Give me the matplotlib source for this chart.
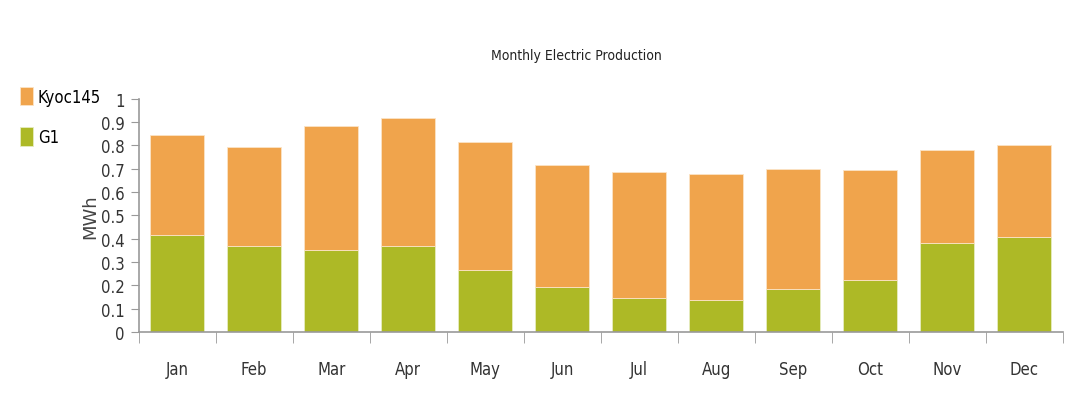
import matplotlib.pyplot as plt
import numpy as np
from matplotlib.ticker import FuncFormatter, MultipleLocator

months = ["Jan", "Feb", "Mar", "Apr", "May", "Jun",
          "Jul", "Aug", "Sep", "Oct", "Nov", "Dec"]
g1 = [0.416, 0.368, 0.352, 0.368, 0.265, 0.193,
      0.146, 0.137, 0.186, 0.224, 0.383, 0.408]
kyoc145 = [0.427, 0.427, 0.531, 0.548, 0.549, 0.522,
           0.539, 0.540, 0.515, 0.470, 0.397, 0.396]

plt.rcParams['font.family'] = ['DejaVu Sans']
plt.rcParams['font.stretch'] = 'condensed'

fig = plt.figure(figsize=(10.67, 4.06), dpi=100)
ax = fig.add_axes([0.130, 0.180, 0.866, 0.574])

x = np.arange(len(months))
green = "#adb926"
orange = "#f0a44c"
b1 = ax.bar(x, g1, width=0.7, color=green, edgecolor="#e6ecc0", linewidth=0.6, label="G1")
b2 = ax.bar(x, kyoc145, width=0.7, bottom=g1, color=orange, edgecolor="#fbe3c6",
            linewidth=0.6, label="Kyoc145")

ax.set_xlim(-0.5, 11.5)
ax.set_ylim(0, 1)
ax.yaxis.set_major_locator(MultipleLocator(0.1))
ax.yaxis.set_major_formatter(FuncFormatter(lambda v, p: "%g" % round(v, 1)))

# month labels centred, tick marks on the category boundaries
ax.set_xticks(x)
ax.set_xticklabels(months)
ax.set_xticks(np.arange(-0.5, 12, 1), minor=True)
ax.tick_params(axis="x", which="major", length=0, pad=20, labelsize=12, colors="#333333")
ax.tick_params(axis="x", which="minor", length=8, color="#999999", direction="out")
ax.tick_params(axis="y", length=6, color="#999999", labelsize=12, labelcolor="#333333", pad=4)

for s in ["top", "right"]:
    ax.spines[s].set_visible(False)
ax.spines["left"].set_color("#999999")
ax.spines["bottom"].set_color("#999999")
ax.spines["left"].set_linewidth(1.2)
ax.spines["bottom"].set_linewidth(1.2)

ax.set_ylabel("MWh", fontsize=13, color="#444444", labelpad=1, fontstretch="normal")

fig.text(0.54, 0.862, "Monthly Electric Production", ha="center", va="center",
         fontsize=10, color="#222222")

fig.legend(handles=[b2, b1], labels=["Kyoc145", "G1"], loc="upper left",
           bbox_to_anchor=(0.005, 0.82), frameon=False, fontsize=12,
           handlelength=0.75, handleheight=1.3, handletextpad=0.3, labelspacing=1.3)

fig.savefig("out.png", dpi=100)
